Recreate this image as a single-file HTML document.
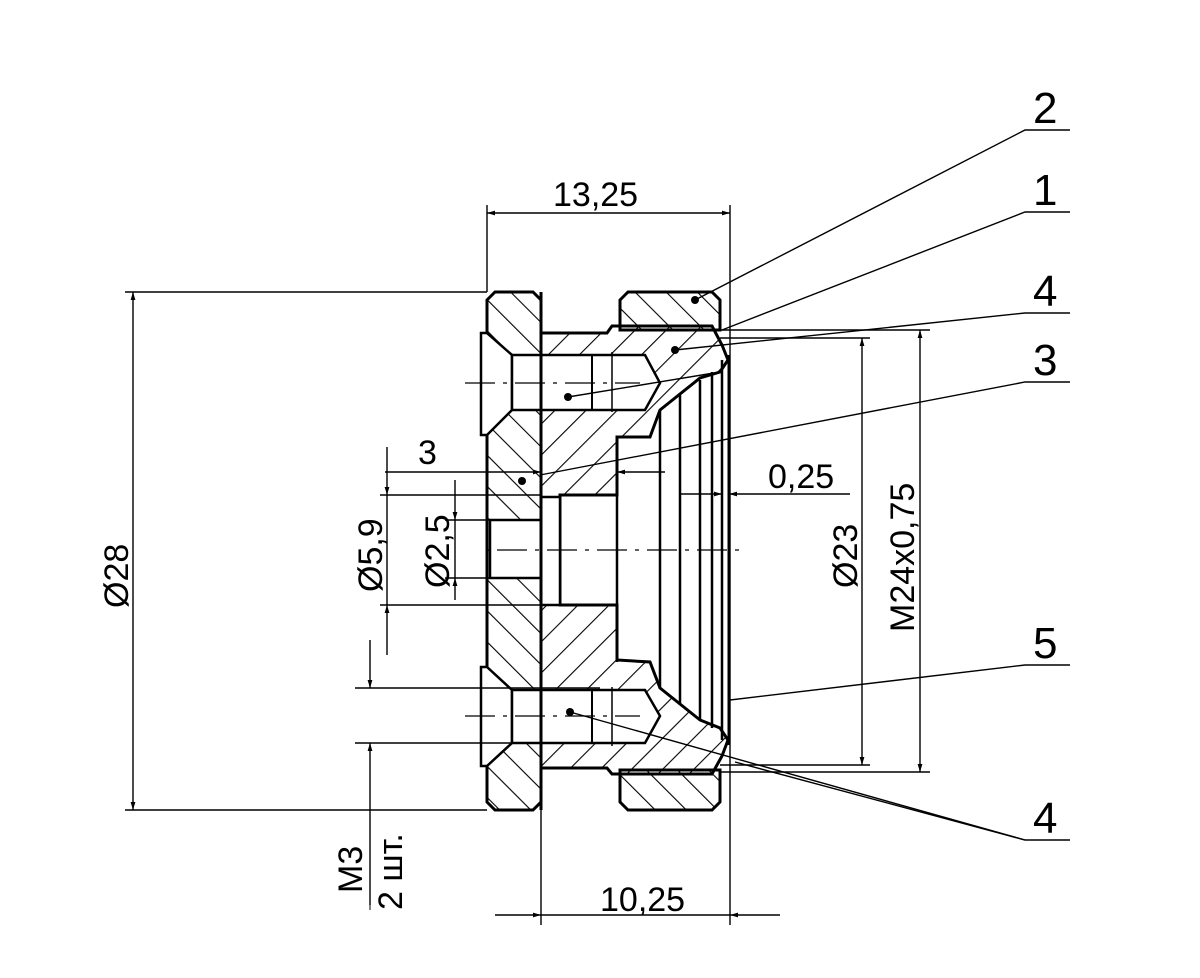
<!DOCTYPE html>
<html><head><meta charset="utf-8"><style>html,body{margin:0;background:#fff}svg{display:block}</style></head><body>
<svg width="1200" height="978" viewBox="0 0 1200 978" xmlns="http://www.w3.org/2000/svg" font-family="Liberation Sans, sans-serif">
<defs>
<pattern id="hA" width="22" height="22" patternUnits="userSpaceOnUse" patternTransform="rotate(45)"><line x1="0" y1="0" x2="0" y2="22" stroke="#000" stroke-width="2.2"/></pattern>
<pattern id="hB" width="22" height="22" patternUnits="userSpaceOnUse" patternTransform="rotate(-45)"><line x1="0" y1="0" x2="0" y2="22" stroke="#000" stroke-width="2.2"/></pattern>
<marker id="ar" viewBox="0 0 10 10" refX="10" refY="5" markerWidth="16" markerHeight="8" orient="auto-start-reverse" markerUnits="userSpaceOnUse"><path d="M0,2 L10,5 L0,8z" fill="#000"/></marker>
</defs>
<g stroke="#000" fill="none">
<path d="M487,300 L495,292 L533,292 L541,300 L541,802 L533,810 L495,810 L487,802 Z" fill="url(#hB)" stroke-width="3"/>
<path d="M620,300 L628,292 L712,292 L720,300 L720,330 L620,330 Z" fill="url(#hB)" stroke-width="3"/>
<path d="M620,770 L720,770 L720,802 L712,810 L628,810 L620,802 Z" fill="url(#hB)" stroke-width="3"/>
<path d="M541,333 L607,333 L612,326 L712,326 L722,345 L728,360 L720,372 L700,378 L660,410 L650,437 L617,437 L617,495 L560,495 L560,605 L617,605 L617,660 L650,662 L660,688 L700,720 L720,728 L728,740 L722,756 L712,774 L612,774 L607,768 L541,768 Z" fill="url(#hA)" stroke-width="3"/>
<rect x="490" y="520" width="51" height="58" fill="#fff" stroke-width="2.5"/>
<rect x="541" y="497" width="19" height="108" fill="#fff" stroke-width="2.5"/>
<path d="M481,333 L487,333 L512,355 L512,410 L487,435 L481,435 Z" fill="#fff" stroke-width="2.5"/>
<path d="M512,355 L645,355 L660,383 L645,410 L512,410 Z" fill="#fff" stroke-width="2.5"/>
<line x1="592" y1="355" x2="592" y2="410" stroke-width="2"/><line x1="612" y1="352" x2="612" y2="412" stroke-width="1.5"/>
<path d="M481,667 L487,667 L512,690 L512,743 L487,766 L481,766 Z" fill="#fff" stroke-width="2.5"/>
<path d="M512,690 L645,690 L660,716 L645,743 L512,743 Z" fill="#fff" stroke-width="2.5"/>
<line x1="592" y1="690" x2="592" y2="743" stroke-width="2"/><line x1="612" y1="687" x2="612" y2="746" stroke-width="1.5"/>
<g stroke-width="2.5">
<line x1="617" y1="437" x2="617" y2="662"/><line x1="660" y1="410" x2="660" y2="688"/>
<line x1="680" y1="395" x2="680" y2="705"/><line x1="700" y1="380" x2="700" y2="720"/>
<line x1="712" y1="372" x2="712" y2="728"/><line x1="722" y1="360" x2="722" y2="740"/>
<line x1="729" y1="355" x2="729" y2="745" stroke-width="3"/>
<line x1="541" y1="292" x2="541" y2="810" stroke-width="3"/>
</g>
<g stroke-width="1.2" stroke-dasharray="30,8,4,8">
<line x1="497" y1="550" x2="742" y2="550"/><line x1="465" y1="383" x2="640" y2="383"/><line x1="465" y1="716" x2="640" y2="716"/>
</g>
<g stroke-width="1.4">
<line x1="487" y1="205" x2="487" y2="292"/><line x1="730" y1="205" x2="730" y2="925"/>
<line x1="487" y1="213" x2="730" y2="213" marker-start="url(#ar)" marker-end="url(#ar)"/>
<line x1="125" y1="292" x2="487" y2="292"/><line x1="125" y1="810" x2="487" y2="810"/>
<line x1="133" y1="292" x2="133" y2="810" marker-start="url(#ar)" marker-end="url(#ar)"/>
<line x1="720" y1="338" x2="870" y2="338"/><line x1="720" y1="765" x2="870" y2="765"/>
<line x1="862" y1="338" x2="862" y2="765" marker-start="url(#ar)" marker-end="url(#ar)"/>
<line x1="720" y1="330" x2="930" y2="330"/><line x1="720" y1="772" x2="930" y2="772"/>
<line x1="920" y1="330" x2="920" y2="772" marker-start="url(#ar)" marker-end="url(#ar)"/>
<line x1="380" y1="495" x2="541" y2="495"/><line x1="380" y1="605" x2="541" y2="605"/>
<line x1="387" y1="447" x2="387" y2="495" marker-end="url(#ar)"/><line x1="387" y1="655" x2="387" y2="605" marker-end="url(#ar)"/>
<line x1="387" y1="495" x2="387" y2="605"/>
<line x1="445" y1="520" x2="490" y2="520"/><line x1="445" y1="578" x2="490" y2="578"/>
<line x1="455" y1="480" x2="455" y2="520" marker-end="url(#ar)"/><line x1="455" y1="600" x2="455" y2="578" marker-end="url(#ar)"/>
<line x1="455" y1="520" x2="455" y2="578"/>
<line x1="385" y1="472" x2="541" y2="472" marker-end="url(#ar)"/><line x1="665" y1="472" x2="617" y2="472" marker-end="url(#ar)"/>
<line x1="680" y1="494" x2="722" y2="494" marker-end="url(#ar)"/><line x1="850" y1="494" x2="729" y2="494" marker-end="url(#ar)"/>
<line x1="355" y1="688" x2="600" y2="688"/><line x1="355" y1="743" x2="600" y2="743"/>
<line x1="370" y1="640" x2="370" y2="688" marker-end="url(#ar)"/><line x1="370" y1="905" x2="370" y2="743" marker-end="url(#ar)"/>
<line x1="541" y1="810" x2="541" y2="925"/>
<line x1="495" y1="915" x2="541" y2="915" marker-end="url(#ar)"/><line x1="780" y1="915" x2="730" y2="915" marker-end="url(#ar)"/>
<line x1="541" y1="915" x2="730" y2="915"/>
<polyline points="1070,130 1025,130 695,300"/><polyline points="1070,212 1025,212 722,330"/>
<polyline points="1070,313 1025,313 675,350"/><polyline points="1070,382 1025,382 540,475"/>
<polyline points="1070,665 1025,665 730,700"/><polyline points="1070,840 1025,840 570,712"/>
<line x1="1025" y1="840" x2="735" y2="762"/><line x1="568" y1="397" x2="720" y2="372"/>
</g>
<g fill="#000" stroke="none"><circle cx="695" cy="300" r="4"/><circle cx="675" cy="350" r="4"/><circle cx="568" cy="397" r="4"/><circle cx="522" cy="481" r="4"/><circle cx="570" cy="712" r="4"/></g>
</g>
<g font-size="34" fill="#000">
<text x="553" y="206">13,25</text>
<text x="768" y="488">0,25</text>
<text x="418" y="464">3</text>
<text x="600" y="911">10,25</text>
<text x="1033" y="123" font-size="44">2</text><text x="1033" y="205" font-size="44">1</text>
<text x="1033" y="306" font-size="44">4</text><text x="1033" y="375" font-size="44">3</text>
<text x="1033" y="658" font-size="44">5</text><text x="1033" y="833" font-size="44">4</text>
<text transform="translate(128,608) rotate(-90)">Ø28</text>
<text transform="translate(382,592) rotate(-90)">Ø5,9</text>
<text transform="translate(449,588) rotate(-90)">Ø2,5</text>
<text transform="translate(857,588) rotate(-90)">Ø23</text>
<text transform="translate(914,632) rotate(-90)">M24x0,75</text>
<text transform="translate(362,893) rotate(-90)">M3</text>
<line x1="370" y1="910" x2="370" y2="830" stroke="#000"/>
<text transform="translate(402,910) rotate(-90)">2 шт.</text>
</g>
</svg>
</body></html>
